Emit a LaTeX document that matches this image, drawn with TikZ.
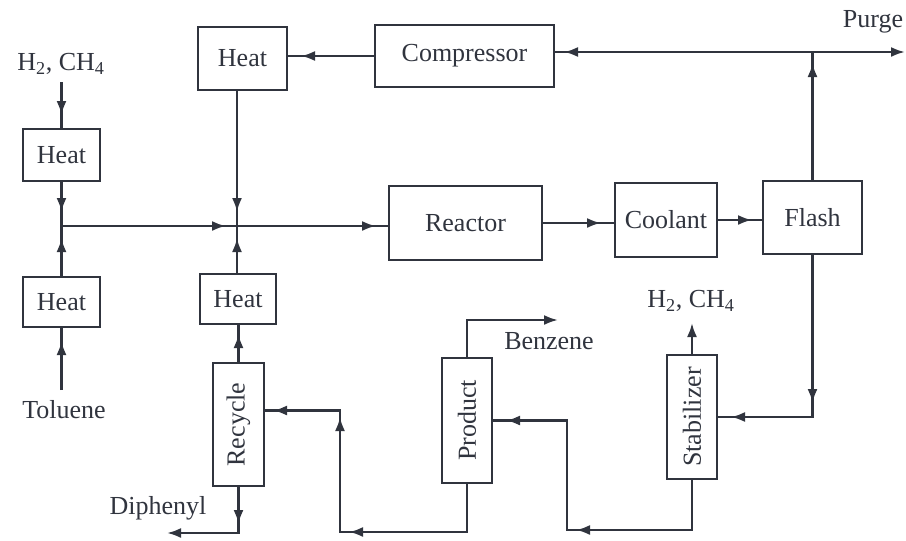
\documentclass[tikz,border=0pt]{standalone}
\usepackage{fontspec}
\setmainfont{Liberation Serif}
\usetikzlibrary{arrows.meta,decorations.markings}
\definecolor{ink}{RGB}{48,52,62}
\begin{document}
\begin{tikzpicture}[x=1pt,y=-1pt,
  font=\fontsize{26}{29}\selectfont,
  box/.style={draw=ink, line width=2pt, text=ink, inner sep=0pt},
  flow/.style={draw=ink, color=ink, line width=2.4pt},
  tipat/.style={postaction={decorate,decoration={markings,mark=at position #1 with {\arrow{Latex[length=14pt,width=10pt]}}}}},
  endtip/.style={-{Latex[length=14pt,width=10pt]}},
  lbl/.style={text=ink, inner sep=0pt}]
\useasboundingbox (0,0) rectangle (906,541);
% boxes
\node[box, minimum width=77, minimum height=52] (heatA) at (61.5,155) {Heat};
\node[box, minimum width=77, minimum height=50] (heatC) at (61.5,302) {Heat};
\node[box, minimum width=89, minimum height=63] (heatB) at (242.5,58.5) {Heat};
\node[box, minimum width=76, minimum height=50] (heatD) at (238,299) {Heat};
\node[box, minimum width=179, minimum height=62] (comp) at (464.5,56) {Compressor};
\node[box, minimum width=153, minimum height=74] (reactor) at (465.5,223) {Reactor};
\node[box, minimum width=102, minimum height=74] (coolant) at (666,220) {Coolant};
\node[box, minimum width=99, minimum height=73] (flash) at (812.5,217.5) {Flash};
\node[box, minimum width=51, minimum height=123] (recycle) at (238.5,424.5) {\rotatebox{90}{Recycle}};
\node[box, minimum width=50, minimum height=125] (product) at (467,420.5) {\rotatebox{90}{Product}};
\node[box, minimum width=50, minimum height=124] (stab) at (692,417) {\rotatebox{90}{Stabilizer}};
% labels
\node[lbl] (h2a) at (61,64) {H\textsubscript{2}, CH\textsubscript{4}};
\node[lbl] (h2b) at (691,301) {H\textsubscript{2}, CH\textsubscript{4}};
\node[lbl] (purge) at (873,22) {Purge};
\node[lbl] (benzene) at (549,341) {Benzene};
\node[lbl] (toluene) at (64,410) {Toluene};
\node[lbl] (diphenyl) at (158,508) {Diphenyl};
% coordinates
\coordinate (h2in) at (61.5,82);
\coordinate (j1) at (61.5,226);
\coordinate (j2) at (237,226);
\coordinate (pj) at (812,52);
\coordinate (purgeend) at (905,52);
\coordinate (tolin) at (61.5,390);
\coordinate (benz) at (558,320);
\coordinate (h2out) at (692,323);
\coordinate (diph) at (167,533);
\coordinate (c1) at (340,532);
\coordinate (c2) at (567,530);
% connectors
\draw[flow,tipat=-13pt] (h2in) -- (heatA.north);
\draw[flow,tipat=-14pt] (heatA.south) -- (j1);
\draw[flow,tipat=-12pt] (heatC.north) -- (j1);
\draw[flow,tipat=-13pt] (tolin) -- (heatC.south);
\draw[flow,tipat=-11pt] (j1) -- (j2);
\draw[flow,tipat=-12pt] (j2) -- (j2 -| reactor.west);
\draw[flow,tipat=-14pt] (heatB.south -| j2) -- (j2);
\draw[flow,tipat=-12pt] (heatD.north -| j2) -- (j2);
\draw[flow,tipat=-9pt] (recycle.north) -- (recycle.north |- heatD.south);
\draw[flow,tipat=-13pt] (reactor.east) -- (reactor.east -| coolant.west);
\draw[flow,tipat=-10pt] (coolant.east) -- (coolant.east -| flash.west);
\draw[flow,tipat=-11pt] (flash.north) -- (flash.north |- pj);
\draw[flow,tipat=-9pt] (pj) -- (pj -| comp.east);
\draw[flow,endtip] (pj) -- (purgeend);
\draw[flow,tipat=-13pt] (comp.west) -- (comp.west -| heatB.east);
\draw[flow,endtip] (product.north) |- (benz);
\draw[flow,endtip] (stab.north) -- (h2out);
\draw[flow,tipat=37pt,endtip] (recycle.south) |- (diph);
\draw[flow,tipat=166pt,tipat=290pt,tipat=-8pt] (product.south) |- (c1) |- ([yshift=14pt]recycle.east);
\draw[flow,tipat=166pt,tipat=-13pt] (stab.south) |- (c2) |- (product.east);
\draw[flow,tipat=148pt,tipat=-13pt] (flash.south) |- (stab.east);
\end{tikzpicture}
\end{document}
